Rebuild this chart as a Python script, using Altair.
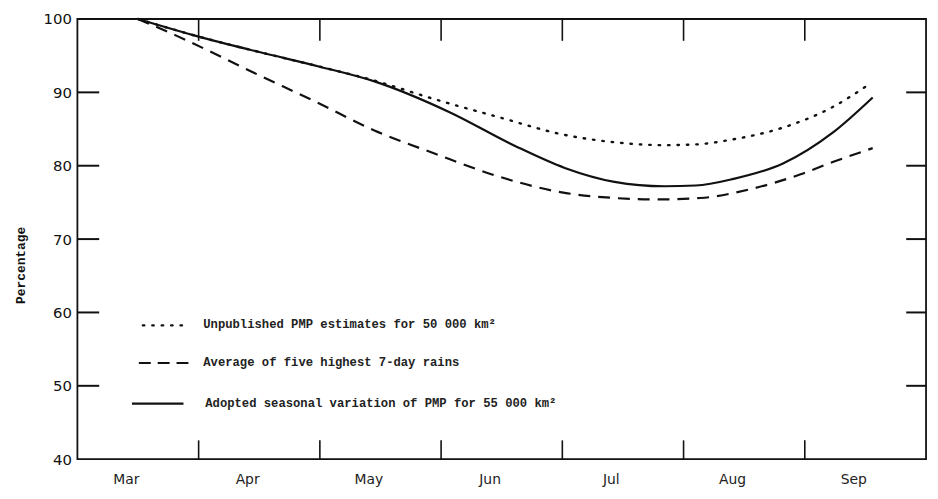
import altair as alt
import pandas as pd

# ---- data (x: months after 1 March, y: percentage) ----
months = ["Mar", "Apr", "May", "Jun", "Jul", "Aug", "Sep"]
month_bounds = [1, 2, 3, 4, 5, 6]          # 1 Apr ... 1 Sep
y_ticks = [50, 60, 70, 80, 90]
y_labels = [40, 50, 60, 70, 80, 90, 100]

adopted_x = [0.5, 1.0, 1.5, 2.0, 2.45, 3.07, 3.61, 4.02, 4.43, 4.84, 5.1, 5.41, 5.82, 6.23, 6.56]
adopted_y = [100, 97.6, 95.5, 93.5, 91.5, 87.3, 82.7, 79.7, 77.8, 77.2, 77.3, 78.2, 80.3, 84.5, 89.3]

unpub_x = [0.5, 1.0, 1.5, 2.0, 2.45, 2.94, 3.48, 4.02, 4.43, 4.84, 5.1, 5.41, 5.82, 6.23, 6.54]
unpub_y = [100, 97.6, 95.5, 93.5, 91.6, 89.1, 86.6, 84.2, 83.2, 82.8, 82.9, 83.6, 85.2, 88.0, 91.2]

avg_x = [0.5, 0.82, 1.49, 1.98, 2.45, 2.94, 3.48, 4.02, 4.43, 4.76, 5.14, 5.55, 5.96, 6.23, 6.56]
avg_y = [100, 97.7, 92.4, 88.6, 84.8, 81.7, 78.5, 76.3, 75.6, 75.4, 75.6, 76.8, 78.8, 80.5, 82.4]

legend_labels = [
    "Unpublished PMP estimates for 50 000 km²",
    "Average of five highest 7-day rains",
    "Adopted seasonal variation of PMP for 55 000 km²",
]

INK = "#111111"
W, H = 856, 444

xs = alt.Scale(domain=[0, 7], nice=False, zero=False)
ys = alt.Scale(domain=[40, 100], nice=False, zero=False)

x_axis = alt.Axis(
    values=[i + 0.4 for i in range(7)],
    labelExpr="['Mar','Apr','May','Jun','Jul','Aug','Sep'][floor(datum.value)]",
    ticks=False, domain=False, grid=False, title=None,
    labelFont="DejaVu Sans", labelFontSize=14, labelColor="#222222",
    labelPadding=14,
)
y_axis = alt.Axis(
    values=y_labels, ticks=False, domain=False, grid=False,
    title="Percentage", titleFont="Liberation Mono", titleFontSize=13,
    titleFontWeight="bold", titleColor=INK, titleX=-50, titleY=248,
    labelFont="DejaVu Sans", labelFontSize=15, labelColor=INK, labelPadding=6,
)

def series(xv, yv):
    return pd.DataFrame({"m": xv, "p": yv})

base_axes = alt.Chart(series(adopted_x, adopted_y)).mark_line(
    stroke=INK, strokeWidth=2.2, interpolate="monotone"
).encode(
    x=alt.X("m:Q", scale=xs, axis=x_axis),
    y=alt.Y("p:Q", scale=ys, axis=y_axis),
)

dotted = alt.Chart(series(unpub_x, unpub_y)).mark_line(
    stroke=INK, strokeWidth=2.4, strokeDash=[1.5, 8], strokeCap="round",
    interpolate="monotone"
).encode(x=alt.X("m:Q", scale=xs), y=alt.Y("p:Q", scale=ys))

dashed = alt.Chart(series(avg_x, avg_y)).mark_line(
    stroke=INK, strokeWidth=2.2, strokeDash=[12, 8], interpolate="monotone"
).encode(x=alt.X("m:Q", scale=xs), y=alt.Y("p:Q", scale=ys))

# inward tick marks on all four sides
yt = pd.DataFrame({"v": y_ticks})
xt = pd.DataFrame({"v": month_bounds})
left_ticks = alt.Chart(yt).mark_rule(stroke=INK, strokeWidth=2).encode(
    y=alt.Y("v:Q", scale=ys), x=alt.value(0), x2=alt.value(22))
right_ticks = alt.Chart(yt).mark_rule(stroke=INK, strokeWidth=2).encode(
    y=alt.Y("v:Q", scale=ys), x=alt.value(W - 20), x2=alt.value(W))
bottom_ticks = alt.Chart(xt).mark_rule(stroke=INK, strokeWidth=1.6).encode(
    x=alt.X("v:Q", scale=xs), y=alt.value(H), y2=alt.value(H - 19))
top_ticks = alt.Chart(xt).mark_rule(stroke=INK, strokeWidth=1.6).encode(
    x=alt.X("v:Q", scale=xs), y=alt.value(0), y2=alt.value(22))

# in-plot legend
leg_y = [309, 347, 388]
leg_samples = [
    alt.Chart(pd.DataFrame({"a": [0]})).mark_rule(
        stroke=INK, strokeWidth=2.4, strokeDash=[1.5, 8], strokeCap="round"
    ).encode(x=alt.value(66), x2=alt.value(112), y=alt.value(leg_y[0])),
    alt.Chart(pd.DataFrame({"a": [0]})).mark_rule(
        stroke=INK, strokeWidth=2.2, strokeDash=[12, 7]
    ).encode(x=alt.value(62), x2=alt.value(112), y=alt.value(leg_y[1])),
    alt.Chart(pd.DataFrame({"a": [0]})).mark_rule(
        stroke=INK, strokeWidth=2.2
    ).encode(x=alt.value(55), x2=alt.value(107), y=alt.value(leg_y[2])),
]
leg_texts = [
    alt.Chart(pd.DataFrame({"t": [lab]})).mark_text(
        align="left", baseline="middle", font="Liberation Mono",
        fontSize=12.3, fontWeight="bold", color="#222222"
    ).encode(text="t:N", x=alt.value(127 if i < 2 else 129), y=alt.value(leg_y[i] - 1))
    for i, lab in enumerate(legend_labels)
]

chart = alt.layer(
    base_axes, dotted, dashed,
    left_ticks, right_ticks, bottom_ticks, top_ticks,
    *leg_samples, *leg_texts,
).properties(
    width=W, height=H,
    autosize=alt.AutoSizeParams(type="none"),
    padding={"left": 70, "top": 9, "right": 4, "bottom": 30},
    background="white",
).configure_view(stroke=INK, strokeWidth=1.8)

chart.save("out.html", embed_options={"renderer": "svg", "actions": False})
